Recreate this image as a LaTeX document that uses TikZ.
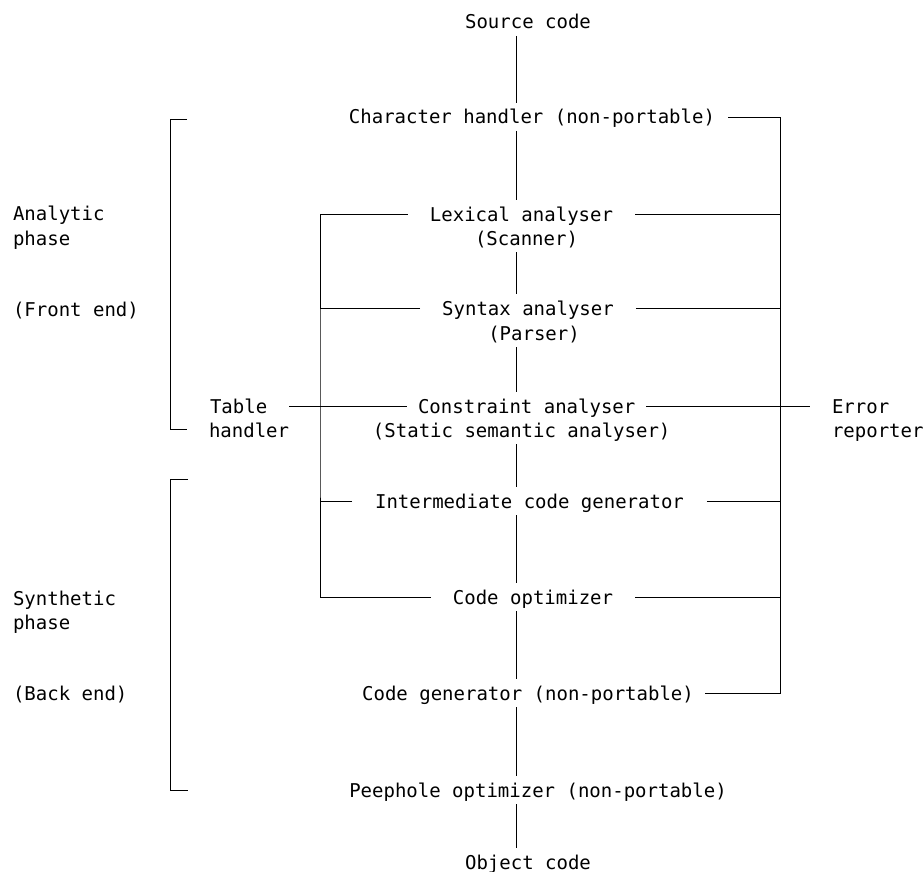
\documentclass[tikz,border=0pt]{standalone}
\usepackage{fontspec}
\setmonofont{DejaVu Sans Mono}
\tikzset{
  stage/.style={draw=none,inner sep=0pt,outer xsep=22pt,outer ysep=7pt,
    text height=14pt,text depth=0pt,font=\ttfamily\fontsize{19}{24}\selectfont},
  lbl/.style={stage,anchor=west,outer xsep=0pt},
}
\begin{document}
\begin{tikzpicture}[x=1pt,y=-1pt,line width=.9pt]
\useasboundingbox (0,0) rectangle (923,872);
\node[name=src,stage] at (528,22) {Source code};
\node[name=chr,stage,outer xsep=13pt] at (532,117) {Character handler (non-portable)};
\node[name=lex,stage] at (521.5,214) {Lexical analyser};
\node[name=lexb,stage] at (526.5,238) {(Scanner)};
\node[name=syn,stage] at (528,308) {Syntax analyser};
\node[name=synb,stage] at (534,333) {(Parser)};
\node[name=con,stage,outer xsep=11pt] at (526.7,406) {Constraint analyser};
\node[name=conb,stage] at (521.7,430) {(Static semantic analyser)};
\node[name=int,stage,outer xsep=23pt] at (529.5,501) {Intermediate code generator};
\node[name=opt,stage] at (533,597) {Code optimizer};
\node[name=gen,stage,outer xsep=11pt] at (528,693) {Code generator (non-portable)};
\node[name=pee,stage] at (538,790) {Peephole optimizer (non-portable)};
\node[name=obj,stage] at (528,862) {Object code};

\node[name=tbl,lbl] at (210,406) {Table};
\node[name=tblb,lbl] at (209,430) {handler};
\node[name=err,lbl,outer xsep=22pt] at (810,406) {Error};
\node[name=errb,lbl] at (832,430) {reporter};

\node[name=ana,lbl] at (13,213) {Analytic};
\node[name=anab,lbl] at (13,238) {phase};
\node[name=fe,lbl] at (13,309) {(Front end)};
\node[name=sy,lbl] at (13,598) {Synthetic};
\node[name=syb,lbl] at (13,622) {phase};
\node[name=be,lbl] at (13,693) {(Back end)};

\coordinate (sp) at (516,0);
\coordinate (lb) at (320,400);
\coordinate (rb) at (780,400);

% main line
\foreach \a/\b in {src/chr,chr/lex,lexb/syn,synb/con,conb/int,int/opt,opt/gen,gen/pee,pee/obj}
  \draw (\a.south -| sp) -- (\b.north -| sp);

% table handler
\draw (lex.west) -| (lb) |- (opt.west);
\foreach \n in {syn,int}
  \draw (\n.west) -- (\n.west -| lb);
\draw ([xshift=22pt]tbl.east) -- (con.west);

% error reporter
\draw (chr.east) -| (rb) |- (gen.east);
\foreach \n in {lex,syn,int,opt}
  \draw (\n.east) -- (\n.east -| rb);
\draw (con.east) -- (err.west);

% phases
\draw (187,119) -| (170,429) -- (187,429);
\draw (188,479) -| (170,790) -- (188,790);
\end{tikzpicture}
\end{document}
